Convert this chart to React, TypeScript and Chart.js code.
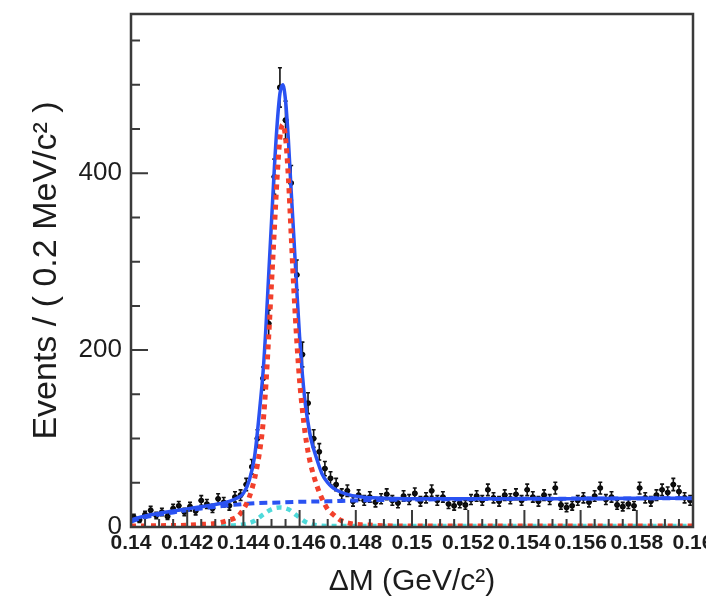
import React, { useEffect, useRef } from "react";
import { Chart, registerables } from "chart.js";
Chart.register(...registerables);

const X_MIN = 0.14;
const X_MAX = 0.16;
const Y_MIN = 0;
const Y_MAX = 580;
const BIN_WIDTH = 0.0002;

const xTickValues = [0.14, 0.142, 0.144, 0.146, 0.148, 0.15, 0.152, 0.154, 0.156, 0.158, 0.16];
const xTickLabels = ["0.14", "0.142", "0.144", "0.146", "0.148", "0.15", "0.152", "0.154", "0.156", "0.158", "0.16"];
const yTickValues = [0, 200, 400];
const yTickLabels = ["0", "200", "400"];

// Events per 0.2 MeV bin (100 bins from 0.14 to 0.16)
const counts = [
  11, 8, 14, 19, 13, 17, 12, 21, 24, 17,
  23, 18, 30, 26, 21, 32, 28, 24, 34, 36,
  48, 68, 100, 168, 230, 396, 497, 460, 389, 285,
  195, 140, 100, 85, 66, 55, 48, 37, 41, 29,
  36, 30, 34, 28, 32, 37, 30, 27, 35, 31,
  38, 29, 33, 41, 30, 34, 26, 24, 27, 25,
  31, 35, 30, 42, 33, 29, 36, 32, 37, 30,
  42, 34, 29, 36, 31, 44, 25, 22, 24, 30,
  33, 28, 35, 44, 31, 34, 25, 23, 26, 24,
  44, 33, 29, 36, 42, 39, 48, 40, 33, 30,
];

// Total fit (blue solid)
const totalX = [
  0.14, 0.1402, 0.1405, 0.141, 0.1415, 0.142, 0.1425, 0.143, 0.1435, 0.1438,
  0.144, 0.1442, 0.1444, 0.1446, 0.1447, 0.1448, 0.1449, 0.145, 0.1451, 0.1452,
  0.1453, 0.1454, 0.1455, 0.1456, 0.1457, 0.1458, 0.1459, 0.146, 0.1461, 0.1462,
  0.1463, 0.1464, 0.1466, 0.1468, 0.147, 0.1472, 0.1475, 0.1478, 0.1482, 0.1486,
  0.149, 0.15, 0.152, 0.154, 0.156, 0.158, 0.16,
];
const totalY = [
  8, 10, 12.5, 15.5, 18, 20.5, 23, 25.5, 29, 33,
  38, 52, 80, 140, 175, 225, 285, 345, 405, 455,
  490, 500, 482, 438, 380, 325, 268, 215, 172, 140,
  118, 100, 78, 60, 50, 44, 39, 36, 34, 33,
  32.5, 32, 32, 32, 32, 32.5, 32.5,
];

// Signal component (red dashed)
const sigX = [
  0.14, 0.141, 0.142, 0.1425, 0.143, 0.1435, 0.1438, 0.144, 0.1442, 0.1444,
  0.1446, 0.1447, 0.1448, 0.1449, 0.145, 0.1451, 0.1452, 0.1453, 0.1454, 0.1455,
  0.1456, 0.1457, 0.1458, 0.1459, 0.146, 0.1461, 0.1462, 0.1463, 0.1464, 0.1466,
  0.1468, 0.147, 0.1472, 0.1475, 0.1478, 0.1482, 0.1486, 0.149, 0.15, 0.155, 0.16,
];
const sigY = [
  1, 1.5, 2, 3, 4, 8, 12, 20, 33, 55,
  90, 117, 160, 215, 275, 335, 395, 440, 455, 440,
  395, 330, 265, 210, 165, 132, 105, 85, 70, 48,
  32, 20, 14, 7, 4, 2.5, 2, 1.5, 1, 1, 1,
];

// Combinatorial background (blue dashed)
const bkgX = [
  0.14, 0.1402, 0.1405, 0.141, 0.1415, 0.142, 0.1425, 0.143, 0.1435, 0.144,
  0.1445, 0.145, 0.146, 0.147, 0.148, 0.15, 0.152, 0.155, 0.16,
];
const bkgY = [
  6, 8.5, 11, 14, 16.5, 19, 21, 23, 24.5, 26,
  27, 27.5, 28.5, 29, 30, 31, 31.5, 32, 32.5,
];

// Peaking background (cyan dashed)
const peakX = [
  0.14, 0.142, 0.1435, 0.144, 0.1444, 0.1447, 0.145, 0.1453, 0.1456, 0.1459,
  0.1462, 0.1465, 0.147, 0.148, 0.16,
];
const peakY = [
  0.8, 1, 1.5, 3, 7, 14, 20, 22, 20, 13,
  6, 2.5, 1.2, 1, 1,
];

const FONT = "'Liberation Sans', Arial, Helvetica, sans-serif";
const INK = "#1c1c1c";
const FRAME = "#3a3a3a";
const BLUE = "#2a52f2";
const RED = "#f2402c";
const CYAN = "#4fdada";

const binCenters = counts.map((_, i) => X_MIN + (i + 0.5) * BIN_WIDTH);

const rootPlugin = {
  id: "rootStyle",
  afterDatasetDraw(chart: any, args: any) {
    if (args.index !== 0) return;
    const { ctx, chartArea } = chart;
    const xs = chart.scales.x;
    const ys = chart.scales.y;
    ctx.save();
    ctx.beginPath();
    ctx.rect(chartArea.left, chartArea.top, chartArea.right - chartArea.left, chartArea.bottom - chartArea.top);
    ctx.clip();
    ctx.strokeStyle = "#111";
    ctx.lineWidth = 1.6;
    ctx.beginPath();
    counts.forEach((n, i) => {
      const c = binCenters[i];
      const err = Math.sqrt(n);
      const cx = xs.getPixelForValue(c);
      const x0 = xs.getPixelForValue(c - BIN_WIDTH / 2);
      const x1 = xs.getPixelForValue(c + BIN_WIDTH / 2);
      const yc = ys.getPixelForValue(n);
      const yt = ys.getPixelForValue(n + err);
      const yb = ys.getPixelForValue(Math.max(0, n - err));
      ctx.moveTo(cx, yt);
      ctx.lineTo(cx, yb);
      ctx.moveTo(x0, yc);
      ctx.lineTo(x1, yc);
      ctx.moveTo(cx - 2, yt);
      ctx.lineTo(cx + 2, yt);
      ctx.moveTo(cx - 2, yb);
      ctx.lineTo(cx + 2, yb);
    });
    ctx.stroke();
    ctx.restore();
  },
  afterDraw(chart: any) {
    const { ctx, chartArea } = chart;
    const xs = chart.scales.x;
    const ys = chart.scales.y;
    const { left, right, top, bottom } = chartArea;
    ctx.save();
    ctx.strokeStyle = FRAME;
    ctx.lineWidth = 2.5;
    ctx.strokeRect(left, top, right - left, bottom - top);
    ctx.lineWidth = 2;
    ctx.beginPath();
    for (let v = 0; v <= Y_MAX; v += 50) {
      const y = ys.getPixelForValue(v);
      const len = v % 200 === 0 ? 17 : 9;
      ctx.moveTo(left, y);
      ctx.lineTo(left + len, y);
    }
    for (let k = 0; k <= 40; k++) {
      const v = X_MIN + k * 0.0005;
      const x = xs.getPixelForValue(v);
      const len = k % 4 === 0 ? 17 : 8;
      ctx.moveTo(x, bottom);
      ctx.lineTo(x, bottom - len);
    }
    ctx.stroke();
    ctx.restore();
  },
};

const pts = (xs: number[], ys: number[]) => xs.map((x, i) => ({ x, y: ys[i] }));

export default function App() {
  const ref = useRef<HTMLCanvasElement | null>(null);
  useEffect(() => {
    if (!ref.current) return;
    const curve = {
      showLine: true,
      pointRadius: 0,
      fill: false,
      cubicInterpolationMode: "monotone" as const,
    };
    const chart = new Chart(ref.current, {
      type: "scatter",
      data: {
        datasets: [
          {
            label: "data",
            data: pts(binCenters, counts),
            pointRadius: 2.8,
            pointBackgroundColor: "#000",
            pointBorderWidth: 0,
            showLine: false,
            order: 10,
          },
          {
            ...curve,
            label: "total",
            data: pts(totalX, totalY),
            borderColor: BLUE,
            borderWidth: 3.5,
            order: 4,
          },
          {
            ...curve,
            label: "bkg",
            data: pts(bkgX, bkgY),
            borderColor: BLUE,
            borderWidth: 4,
            borderDash: [8, 5],
            order: 3,
          },
          {
            ...curve,
            label: "peaking",
            data: pts(peakX, peakY),
            borderColor: CYAN,
            borderWidth: 4.5,
            borderDash: [5, 5],
            order: 2,
          },
          {
            ...curve,
            label: "signal",
            data: pts(sigX, sigY),
            borderColor: RED,
            borderWidth: 5,
            borderDash: [5, 5],
            order: 1,
          },
        ],
      },
      options: {
        responsive: false,
        animation: false,
        events: [],
        layout: { padding: { left: 0, top: 14, right: 37, bottom: 0 } },
        plugins: { legend: { display: false }, tooltip: { enabled: false } },
        scales: {
          x: {
            type: "linear",
            min: X_MIN,
            max: X_MAX,
            grid: { display: false, drawTicks: false },
            border: { display: false },
            afterFit: (s: any) => {
              s.height = 80;
              s.paddingLeft = 0;
              s.paddingRight = 0;
            },
            afterBuildTicks: (s: any) => { s.ticks = xTickValues.map((value) => ({ value })); },
            ticks: {
              autoSkip: false,
              maxRotation: 0,
              padding: 4,
              color: INK,
              font: { family: FONT, size: 21, weight: "bold" },
              callback: (_v: any, i: number) => xTickLabels[i],
            },
            title: {
              display: true,
              text: "ΔM (GeV/c²)",
              color: INK,
              font: { family: FONT, size: 30 },
              padding: { top: 0, bottom: 7 },
            },
          },
          y: {
            type: "linear",
            min: Y_MIN,
            max: Y_MAX,
            grid: { display: false, drawTicks: false },
            border: { display: false },
            afterFit: (s: any) => {
              s.width = 131;
              s.paddingTop = 0;
              s.paddingBottom = 0;
            },
            afterBuildTicks: (s: any) => { s.ticks = yTickValues.map((value) => ({ value })); },
            ticks: {
              autoSkip: false,
              padding: 9,
              color: INK,
              font: { family: FONT, size: 26 },
              callback: (_v: any, i: number) => yTickLabels[i],
            },
            title: {
              display: true,
              text: "Events / ( 0.2 MeV/c² )",
              color: INK,
              font: { family: FONT, size: 34 },
              padding: { top: 26, bottom: 0 },
            },
          },
        },
      },
      plugins: [rootPlugin],
    });
    return () => chart.destroy();
  }, []);
  return (
    <div style={{ position: "fixed", left: 0, top: 0, width: 730, height: 607, background: "#fff" }}>
      <canvas ref={ref} width={730} height={607} style={{ display: "block" }} />
    </div>
  );
}
